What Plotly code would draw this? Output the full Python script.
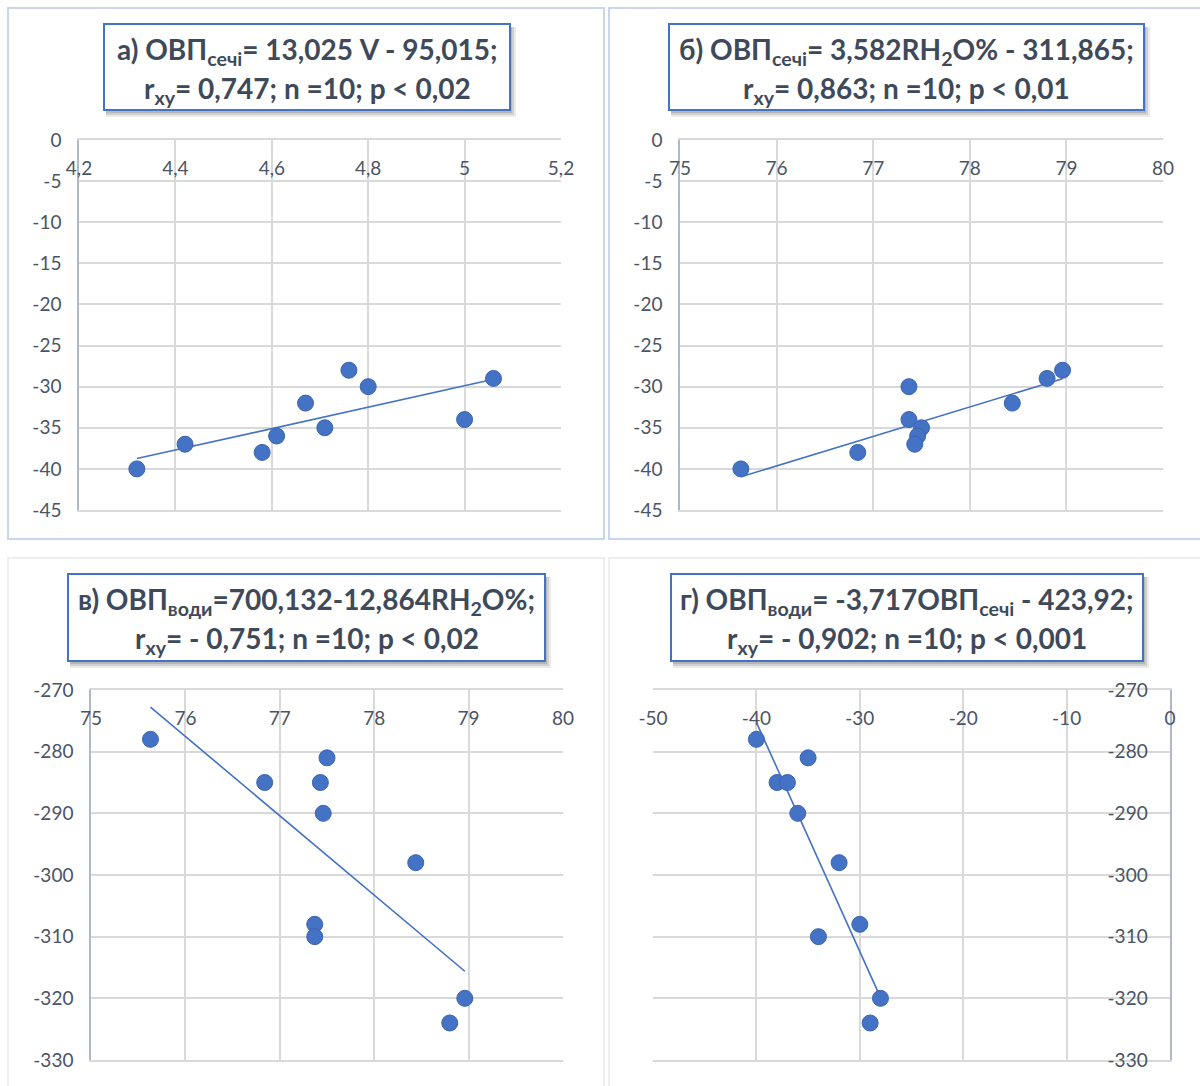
import plotly.graph_objects as go

# ---- data ----
V_values = [4.32, 4.42, 4.58, 4.61, 4.67, 4.71, 4.76, 4.80, 5.00, 5.06]
orp_urine_a = [-40, -37, -38, -36, -32, -35, -28, -30, -34, -29]

rh2o = [75.63, 76.84, 77.37, 77.37, 77.50, 77.46, 77.43, 78.44, 78.80, 78.96]
orp_urine = [-40, -38, -30, -34, -35, -36, -37, -32, -29, -28]
orp_water = [-278, -285, -308, -310, -281, -290, -285, -298, -324, -320]

# regression coefficients given in the panel titles (slope, intercept)
coef_a = (13.025, -95.015)
coef_b = (3.582, -311.865)
coef_c = (-12.864, 700.132)
coef_d = (-3.717, -423.92)

ticks_a_vals = [4.2, 4.4, 4.6, 4.8, 5.0, 5.2]
ticks_a_text = ["4,2", "4,4", "4,6", "4,8", "5", "5,2"]
ticks_rh_vals = [75, 76, 77, 78, 79, 80]
ticks_rh_text = ["75", "76", "77", "78", "79", "80"]
ticks_orp_vals = [-50, -40, -30, -20, -10, 0]
ticks_orp_text = ["-50", "-40", "-30", "-20", "-10", "0"]
ticks_y_top_vals = [0, -5, -10, -15, -20, -25, -30, -35, -40, -45]
ticks_y_top_text = ["0", "-5", "-10", "-15", "-20", "-25", "-30", "-35", "-40", "-45"]
ticks_y_bot_vals = [-270, -280, -290, -300, -310, -320, -330]
ticks_y_bot_text = ["-270", "-280", "-290", "-300", "-310", "-320", "-330"]

titles = [
    ("а) ОВП<sub>сечі</sub>= 13,025 V - 95,015;", "r<sub>xy</sub>= 0,747; n =10; p &lt; 0,02"),
    ("б) ОВП<sub>сечі</sub>= 3,582RH<sub>2</sub>O% - 311,865;", "r<sub>xy</sub>= 0,863; n =10; p &lt; 0,01"),
    ("в) ОВП<sub>води</sub>=700,132-12,864RH<sub>2</sub>O%;", "r<sub>xy</sub>= - 0,751; n =10; p &lt; 0,02"),
    ("г) ОВП<sub>води</sub>= -3,717ОВП<sub>сечі</sub> - 423,92;", "r<sub>xy</sub>= - 0,902; n =10; p &lt; 0,001"),
]

# ---- styling ----
W, H = 1200, 1086
BLUE = "#4472c4"
GRID = "#d9d9d9"
AXIS = "#aeb8c8"
TXT = "#4a5566"
TITLE_TXT = "#3e4a5a"
FONT = "Lato"

def px_x(x):
    return x / W

def px_y(y):
    return 1 - y / H

fig = go.Figure()

panels = [
    dict(x=V_values, y=orp_urine_a, coef=coef_a, xa="x", ya="y"),
    dict(x=rh2o, y=orp_urine, coef=coef_b, xa="x2", ya="y2"),
    dict(x=rh2o, y=orp_water, coef=coef_c, xa="x3", ya="y3"),
    dict(x=orp_urine, y=orp_water, coef=coef_d, xa="x4", ya="y4"),
]

for p in panels:
    xs = [min(p["x"]), max(p["x"])]
    ys = [p["coef"][0] * v + p["coef"][1] for v in xs]
    fig.add_trace(go.Scatter(x=xs, y=ys, mode="lines", xaxis=p["xa"], yaxis=p["ya"],
                             line=dict(color=BLUE, width=1.6), showlegend=False,
                             hoverinfo="skip"))
    fig.add_trace(go.Scatter(x=p["x"], y=p["y"], mode="markers", xaxis=p["xa"], yaxis=p["ya"],
                             marker=dict(size=16, color=BLUE,
                                         line=dict(color="#3b64b0", width=1)),
                             showlegend=False))

tickfont = dict(family=FONT, size=19, color=TXT)

def xax(domain, rng, tv, tt, anchor, standoff):
    return dict(domain=domain, range=rng, side="top", anchor=anchor,
                tickmode="array", tickvals=tv, ticktext=tt,
                showgrid=True, gridcolor=GRID, gridwidth=1.5,
                zeroline=False, showline=True, linecolor=GRID, linewidth=1.5,
                mirror=True, ticks="", tickfont=tickfont, automargin=False,
                ticklabelstandoff=standoff, fixedrange=True)

def yax(domain, rng, tv, tt, anchor, side="left", standoff=0):
    return dict(domain=domain, range=rng, side=side, anchor=anchor,
                tickmode="array", tickvals=tv, ticktext=tt,
                showgrid=True, gridcolor=GRID, gridwidth=1.5,
                zeroline=False, showline=True, linecolor=AXIS, linewidth=1.5,
                ticks="", tickfont=tickfont, ticklabelstandoff=standoff,
                automargin=False, fixedrange=True)

fig.update_layout(
    xaxis=xax([px_x(79), px_x(561)], [4.2, 5.2], ticks_a_vals, ticks_a_text, "y", -44),
    yaxis=yax([px_y(510), px_y(140)], [-45, 0], ticks_y_top_vals, ticks_y_top_text, "x", standoff=12),
    xaxis2=xax([px_x(680), px_x(1163)], [75, 80], ticks_rh_vals, ticks_rh_text, "y2", -44),
    yaxis2=yax([px_y(510), px_y(140)], [-45, 0], ticks_y_top_vals, ticks_y_top_text, "x2", standoff=12),
    xaxis3=xax([px_x(91), px_x(563)], [75, 80], ticks_rh_vals, ticks_rh_text, "y3", -44),
    yaxis3=yax([px_y(1060), px_y(690)], [-330, -270], ticks_y_bot_vals, ticks_y_bot_text, "x3", standoff=12),
    xaxis4=xax([px_x(653), px_x(1170)], [-50, 0], ticks_orp_vals, ticks_orp_text, "y4", -44),
    yaxis4=yax([px_y(1060), px_y(690)], [-330, -270], ticks_y_bot_vals, ticks_y_bot_text, "x4",
               side="right", standoff=-68),
)

shapes = []
# chart-area frames
frames = [
    (8, 8, 604, 539, "#c9d6ee"),
    (609, 8, 1204, 539, "#c9d6ee"),
    (8, 558, 604, 1090, "#eeeeee"),
    (609, 558, 1204, 1090, "#eeeeee"),
]
for x0, y0, x1, y1, c in frames:
    shapes.append(dict(type="rect", xref="paper", yref="paper",
                       x0=px_x(x0), x1=px_x(x1), y0=px_y(y1), y1=px_y(y0),
                       line=dict(color=c, width=2), fillcolor="white", layer="below"))

boxes = [(104, 24, 510, 110), (669, 24, 1144, 110), (68, 574, 545, 661), (671, 574, 1143, 661)]
annotations = []
for (x0, y0, x1, y1), (l1, l2) in zip(boxes, titles):
    # soft shadow
    for off, op in ((6, 0.12), (4, 0.18), (2, 0.22)):
        shapes.append(dict(type="rect", xref="paper", yref="paper",
                           x0=px_x(x0 + 2), x1=px_x(x1 + off), y0=px_y(y1 + off + 1), y1=px_y(y0 + 3),
                           line=dict(width=0), fillcolor="rgba(90,90,90,%.2f)" % op, layer="above"))
    shapes.append(dict(type="rect", xref="paper", yref="paper",
                       x0=px_x(x0), x1=px_x(x1), y0=px_y(y1), y1=px_y(y0),
                       line=dict(color=BLUE, width=2), fillcolor="white", layer="above"))
    cx = (x0 + x1) / 2
    annotations.append(dict(x=px_x(cx), y=px_y(y0 + 27), xref="paper", yref="paper",
                            text="<b>" + l1 + "</b>", showarrow=False,
                            font=dict(family=FONT, size=28, color=TITLE_TXT),
                            xanchor="center", yanchor="middle"))
    annotations.append(dict(x=px_x(cx), y=px_y(y0 + 66), xref="paper", yref="paper",
                            text="<b>" + l2 + "</b>", showarrow=False,
                            font=dict(family=FONT, size=28, color=TITLE_TXT),
                            xanchor="center", yanchor="middle"))

fig.update_layout(shapes=shapes, annotations=annotations,
                  width=W, height=H, margin=dict(l=0, r=0, t=0, b=0, pad=0, autoexpand=False),
                  paper_bgcolor="white", plot_bgcolor="white", showlegend=False)

fig.write_html("out.html", config={"displayModeBar": False},
               post_script="document.body.style.margin='0';document.body.style.overflow='hidden';")
